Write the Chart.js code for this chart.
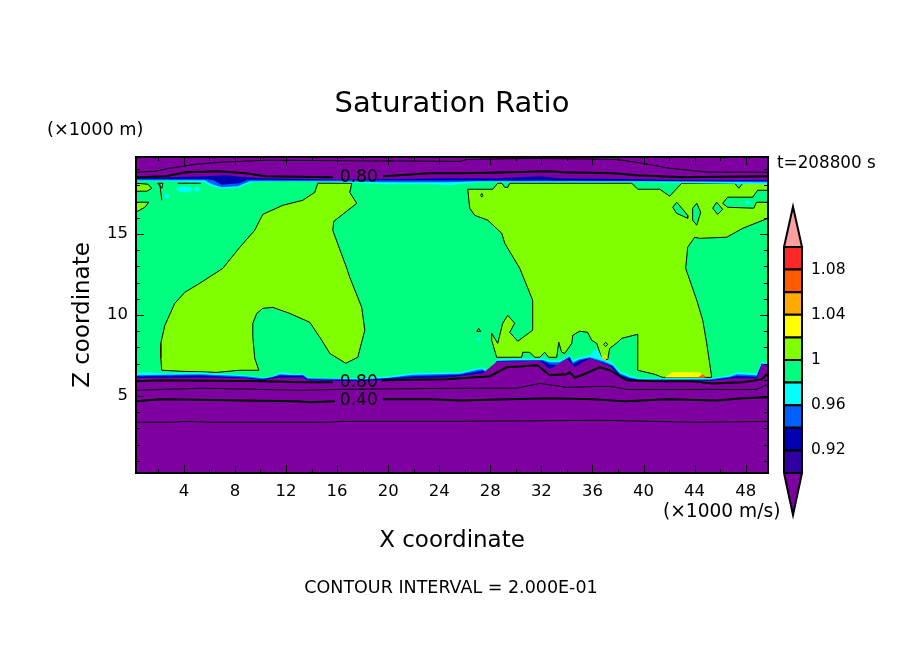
<!DOCTYPE html>
<html><head><meta charset="utf-8">
<style>html,body{margin:0;padding:0;background:#fff}
#wrap{position:relative;width:904px;height:654px}
canvas{position:absolute;left:0;top:0}</style>
<script src="https://cdn.jsdelivr.net/npm/chart.js@4"></script>
</head><body><div id="wrap"><canvas id="main" width="904" height="654"></canvas><canvas id="bar" width="904" height="654"></canvas></div>
<script>
const titleText = "Saturation Ratio";
const xAxisTitle = "X coordinate";
const zAxisTitle = "Z coordinate";
const footerText = "CONTOUR INTERVAL = 2.000E-01";
const timeText = "t=208800 s";
const zUnitText = "(\u00d71000 m)";
const xUnitText = "(\u00d71000 m/s)";
const xRange = [0.25, 49.75];
const zRange = [0.25, 19.75];
const xTickValues = [2,4,6,8,10,12,14,16,18,20,22,24,26,28,30,32,34,36,38,40,42,44,46,48];
const xLabelled = [4,8,12,16,20,24,28,32,36,40,44,48];
const zTickValues = [1,2,3,4,5,6,7,8,9,10,11,12,13,14,15,16,17,18,19];
const zLabelled = [5,10,15];
const colorLevels = [0.90,0.92,0.94,0.96,0.98,1.00,1.02,1.04,1.06,1.08,1.10];
const colorFills = ["#3000a0","#0000b0","#0060ff","#00ffff","#00ff80","#80ff00","#ffff00","#ffa800","#ff5a00","#ff2828"];
const colorTicks = [0.92,0.96,1,1.04,1.08];
const overFill = "#ffa0a0";
const underFill = "#7f00a0";
const upperTip = 1.1357;
const lowerTip = 0.8628;

const domainBox = [[0.25,0.25],[49.75,0.25],[49.75,19.75],[0.25,19.75]];
const limeLeft = [[14.49,18.13],[14.25,17.57],[13.31,17.08],[11.75,16.77],[10.18,16.21],[9.55,15.23],[8.38,14.18],[7.05,12.88],[5.25,11.96],[4.07,11.40],[3.29,10.72],[2.51,9.36],[2.19,8.25],[2.19,7.33],[2.27,6.59],[3.68,6.53],[6.58,6.46],[8.38,6.59],[9.87,6.59],[9.55,7.33],[9.40,8.62],[9.40,9.49],[9.71,10.10],[10.18,10.41],[10.96,10.47],[12.29,10.10],[13.86,9.55],[14.80,8.44],[15.43,7.63],[16.68,7.02],[17.62,7.39],[18.17,9.06],[17.93,10.47],[16.99,12.33],[16.76,12.88],[15.66,15.23],[15.74,15.78],[17.54,16.89],[16.99,17.57],[17.15,18.13]];
const limeRight = [[26.23,17.76],[28.19,17.76],[28.58,18.13],[28.90,18.13],[29.13,17.88],[29.37,17.88],[29.52,18.13],[39.08,18.13],[39.55,17.76],[41.27,17.76],[42.05,17.33],[42.99,18.13],[47.14,18.13],[47.46,17.82],[47.77,18.13],[49.75,18.13],[49.75,15.97],[47.77,15.35],[46.52,14.80],[44.40,14.73],[44.01,14.80],[43.46,14.18],[43.30,12.88],[44.17,10.91],[44.64,9.67],[44.95,8.25],[45.34,6.15],[41.50,6.15],[40.88,6.34],[39.55,6.59],[39.55,8.81],[38.29,8.56],[37.98,8.32],[37.35,7.94],[37.20,7.27],[36.88,7.20],[36.73,7.33],[36.57,7.70],[36.34,8.25],[35.94,8.44],[35.63,8.93],[35.00,9.00],[34.46,8.75],[34.38,8.25],[33.83,7.63],[33.59,7.70],[33.36,8.32],[33.20,7.39],[32.58,7.39],[32.26,7.70],[31.87,7.39],[31.48,7.39],[31.09,7.70],[30.54,7.70],[30.46,7.39],[28.50,7.39],[28.11,8.44],[28.11,8.87],[28.58,8.25],[28.97,9.49],[29.37,9.98],[29.91,9.49],[29.52,8.93],[30.15,8.38],[31.32,9.06],[31.32,10.91],[30.31,12.88],[29.13,14.43],[28.90,15.04],[27.80,15.85],[26.78,16.15],[26.39,16.59]];
const limeCornerA = [[0.25,18.13],[1.17,18.07],[1.49,17.82],[1.10,17.64],[0.25,17.64]];
const limeCornerB = [[0.25,16.96],[1.25,16.96],[0.94,16.65],[0.39,16.40],[0.25,16.46]];
const limeSliver = [[1.96,18.13],[2.35,18.13],[2.27,17.82]];
const holeA = [[42.29,16.65],[42.60,16.96],[43.46,16.15],[43.46,15.97],[42.60,16.27]];
const holeB = [[43.85,16.59],[44.17,16.89],[44.48,16.34],[44.17,15.54],[43.85,15.85]];
const holeC = [[45.42,16.59],[45.73,16.96],[46.20,16.52],[45.81,16.21]];
const holeD = [[46.20,16.89],[46.59,17.27],[48.55,17.27],[48.94,17.70],[49.75,17.70],[49.75,16.96],[48.86,16.96],[48.63,16.59],[46.59,16.65]];
const holeE = [[36.88,8.19],[37.04,8.31],[37.20,8.19],[37.04,8.06]];
const holeF = [[26.94,8.99],[27.09,9.18],[27.25,8.99]];
const holeG = [[27.25,17.38],[27.33,17.50],[27.41,17.38],[27.33,17.27]];
const cyanSpotA = [[2.43,17.33],[2.66,17.51],[2.90,17.33],[2.66,17.14]];
const cyanSpotB = [[3.37,17.76],[3.68,17.94],[4.46,17.92],[4.70,17.76],[4.46,17.57],[3.68,17.57]];
const cyanSpotC = [[4.78,17.76],[5.01,17.94],[5.32,17.76],[5.01,17.57]];
const cyanSpotD = [[47.96,16.96],[48.16,17.10],[48.36,16.96],[48.16,16.82]];
const cyanSpotE = [[26.85,8.50],[27.10,8.58],[27.30,8.50],[27.10,8.42]];
const yellowStrip = [[41.66,6.15],[42.21,6.46],[44.40,6.46],[44.79,6.15]];
const orangeStrip = [[44.24,6.15],[44.64,6.34],[44.95,6.15]];
const yellowSpot = [[36.73,7.33],[36.96,7.57],[37.20,7.33],[36.96,7.20]];
const orangeSpot = [[36.85,7.33],[36.96,7.45],[37.08,7.33],[36.96,7.26]];

const lowCyan = [[0.25,6.34],[0.55,6.46],[1.33,6.46],[2.51,6.40],[5.25,6.46],[7.60,6.34],[8.77,6.28],[10.18,6.15],[10.88,6.22],[11.51,6.46],[12.06,6.46],[12.69,6.34],[13.31,6.40],[13.70,6.15],[15.43,6.09],[17.78,6.09],[19.89,6.22],[21.93,6.40],[25.61,6.46],[27.02,6.71],[27.41,6.77],[27.88,6.53],[28.50,7.27],[30.07,7.33],[32.11,7.33],[32.65,7.20],[33.44,7.20],[34.22,7.57],[34.46,7.20],[35.00,7.39],[35.79,7.51],[36.34,7.94],[36.57,7.63],[36.88,7.20],[37.28,7.20],[37.59,7.02],[38.14,6.53],[38.92,6.28],[39.70,6.09],[45.18,6.09],[46.75,6.28],[47.30,6.46],[48.86,6.40],[49.26,7.14],[49.75,7.02],[49.75,0.25],[0.25,0.25]];
const lowBlue = [[0.25,6.28],[2.51,6.31],[5.25,6.34],[8.77,6.22],[10.18,6.09],[10.88,6.15],[11.51,6.34],[12.69,6.28],[13.31,6.31],[13.70,6.09],[17.78,6.03],[19.89,6.12],[21.93,6.31],[25.61,6.37],[27.02,6.62],[27.41,6.65],[27.88,6.40],[28.50,7.17],[30.07,7.23],[32.11,7.23],[32.65,7.08],[33.44,7.08],[34.22,7.45],[34.46,7.08],[35.00,7.27],[35.79,7.39],[36.88,7.14],[37.59,6.90],[38.14,6.40],[38.92,6.15],[39.70,6.03],[45.18,6.03],[46.75,6.19],[47.30,6.34],[48.86,6.28],[49.26,7.02],[49.75,6.90],[49.75,0.25],[0.25,0.25]];
const lowDark = [[0.25,6.22],[5.25,6.28],[8.77,6.15],[10.18,6.03],[11.51,6.28],[13.31,6.25],[13.70,6.03],[17.78,5.98],[21.93,6.22],[25.61,6.31],[27.41,6.58],[27.88,6.34],[28.50,7.14],[32.11,7.17],[32.65,6.96],[33.44,6.90],[34.22,7.39],[34.46,6.96],[35.00,7.20],[35.79,7.33],[36.88,7.05],[37.59,6.84],[38.14,6.31],[38.92,6.09],[39.70,5.98],[45.18,5.98],[46.75,6.15],[47.30,6.25],[48.86,6.19],[49.26,6.96],[49.75,6.84],[49.75,0.25],[0.25,0.25]];
const lowPurple = [[0.25,6.09],[5.25,6.15],[8.77,6.09],[10.18,5.97],[11.51,6.15],[13.31,6.15],[13.70,5.97],[17.78,5.91],[21.93,6.09],[24.82,6.15],[27.41,6.40],[28.50,7.11],[31.87,7.17],[32.65,6.65],[33.99,7.30],[34.61,6.77],[35.79,7.33],[37.35,6.86],[38.14,6.22],[39.08,5.97],[45.18,5.94],[46.99,6.09],[48.94,6.09],[49.26,6.99],[49.75,6.77],[49.75,0.25],[0.25,0.25]];

const topCyan = [[0.25,18.25],[2.90,18.25],[5.56,18.19],[6.19,17.94],[6.97,17.79],[8.22,17.85],[9.32,18.19],[12.29,18.25],[16.21,18.19],[19.73,18.07],[23.26,18.07],[24.82,18.01],[26.23,18.13],[27.17,18.19],[39.70,18.19],[44.40,18.13],[49.75,18.07],[49.75,19.75],[0.25,19.75]];
const topBlue = [[0.25,18.31],[5.64,18.31],[6.19,18.07],[6.97,17.88],[8.22,17.94],[9.16,18.25],[16.21,18.25],[19.73,18.19],[24.82,18.19],[27.17,18.25],[39.70,18.25],[49.75,18.19],[49.75,19.75],[0.25,19.75]];
const topDark = [[0.25,18.38],[5.79,18.38],[6.34,18.31],[6.97,18.04],[8.38,18.13],[9.01,18.34],[16.21,18.31],[49.75,18.25],[49.75,19.75],[0.25,19.75]];
const topPurple = [[0.25,18.44],[5.72,18.56],[7.28,18.62],[8.77,18.50],[10.10,18.44],[16.21,18.34],[19.58,18.38],[24.82,18.44],[28.74,18.44],[31.87,18.56],[33.44,18.44],[39.70,18.38],[44.40,18.31],[49.75,18.31],[49.75,19.75],[0.25,19.75]];

const lineLow080a = [[0.25,5.91],[2.11,5.97],[10.18,5.91],[13.31,5.85],[15.66,5.85]];
const lineLow080b = [[19.50,5.97],[24.59,6.03],[27.96,6.22],[29.29,6.77],[31.71,6.90],[32.65,6.28],[33.99,6.34],[34.22,6.46],[34.61,6.15],[35.16,6.28],[36.57,6.77],[37.35,6.59],[38.68,5.97],[41.03,5.91],[43.85,5.91],[45.42,5.78],[47.77,5.85],[49.26,6.03],[49.75,6.40]];
const line060 = [[0.25,5.35],[2.35,5.41],[5.48,5.48],[10.18,5.41],[13.31,5.35],[15.97,5.41],[25.61,5.48],[30.07,5.48],[31.87,5.78],[33.99,5.54],[37.35,5.60],[38.68,5.41],[48.86,5.41],[49.75,5.72]];
const line040a = [[0.25,4.67],[2.11,4.80],[12.84,4.67],[13.86,4.61],[15.82,4.67]];
const line040b = [[19.58,4.80],[23.26,4.80],[25.61,4.73],[32.65,4.86],[36.02,4.80],[38.68,4.67],[41.82,4.80],[45.73,4.73],[47.77,4.86],[49.75,4.92]];
const line020 = [[0.25,3.38],[3.13,3.38],[4.23,3.44],[6.03,3.38],[15.43,3.38],[16.21,3.44],[25.61,3.44],[36.57,3.50],[44.40,3.38],[49.75,3.44]];
const lineTop080a = [[0.25,18.50],[2.58,18.56],[4.15,18.81],[6.66,18.87],[8.85,18.75],[10.41,18.56],[15.66,18.50]];
const lineTop080b = [[19.58,18.56],[23.26,18.75],[26.16,18.75],[32.65,18.87],[33.67,18.81],[37.59,18.75],[39.47,18.62],[43.07,18.50],[49.75,18.56]];
const lineTopThin = [[0.25,18.81],[1.80,18.87],[2.82,19.05],[4.93,19.30],[6.73,19.42],[10.41,19.55],[25.61,19.48],[26.16,19.60],[31.32,19.66],[37.90,19.60],[39.94,19.36],[42.05,19.05],[45.18,18.81],[49.75,18.81]];
const lineSpurA = [[3.52,18.13],[5.32,18.13]];
const lineSpurB = [[2.11,18.13],[2.27,17.08]];
const contourLabels = [["0.80",17.70,18.50],["0.80",17.70,5.85],["0.40",17.70,4.74]];

const GREEN = colorFills[4], LIME = colorFills[5], CYAN = colorFills[3], BLUE = colorFills[2], NAVY = colorFills[1], YELLOW = colorFills[6], ORANGE = colorFills[7], DEEP = colorFills[8];
const pts = a => a.map(p => ({x:p[0], y:p[1]}));
const region = (a, fillColor, outline) => ({data:pts(a.concat([a[0]])), showLine:true, fill:'shape', backgroundColor:fillColor,
  borderColor: outline ? '#000' : fillColor, borderWidth: outline ? 1 : 0, pointRadius:0, tension:0});
const contour = (a, w) => ({data:pts(a), showLine:true, fill:false, borderColor:'#000', borderWidth:w, pointRadius:0, tension:0});
const font = "DejaVu Sans";

const painted = [
  region(domainBox, GREEN),
  region(limeLeft, LIME, true), region(limeRight, LIME, true),
  region(limeCornerA, LIME, true), region(limeCornerB, LIME, true), region(limeSliver, LIME, true),
  region(holeA, GREEN, true), region(holeB, GREEN, true), region(holeC, GREEN, true), region(holeD, GREEN, true),
  region(holeE, LIME, true), region(holeF, GREEN, true), region(holeG, LIME, true),
  region(cyanSpotA, CYAN), region(cyanSpotB, CYAN), region(cyanSpotC, CYAN), region(cyanSpotD, CYAN), region(cyanSpotE, CYAN),
  region(yellowStrip, YELLOW), region(orangeStrip, DEEP), region(yellowSpot, YELLOW), region(orangeSpot, ORANGE),
  region(lowCyan, CYAN), region(lowBlue, BLUE), region(lowDark, NAVY), region(lowPurple, underFill),
  region(topCyan, CYAN), region(topBlue, BLUE), region(topDark, NAVY), region(topPurple, underFill),
  contour(lineLow080a,2), contour(lineLow080b,2), contour(line060,1), contour(line040a,2), contour(line040b,2), contour(line020,1),
  contour(lineTop080a,2), contour(lineTop080b,2), contour(lineTopThin,1), contour(lineSpurA,1), contour(lineSpurB,1)
];

const frame = {
  id:'frame',
  afterDatasetsDraw(chart){
    const {ctx, chartArea:a, scales:{x, y}} = chart;
    ctx.save();
    ctx.strokeStyle='#000';
    ctx.lineWidth=1;
    ctx.beginPath();
    xTickValues.forEach(v=>{
      const p=Math.round(x.getPixelForValue(v))+0.5, l=xLabelled.includes(v)?8:4;
      ctx.moveTo(p,a.bottom);ctx.lineTo(p,a.bottom-l);ctx.moveTo(p,a.top);ctx.lineTo(p,a.top+l);
    });
    zTickValues.forEach(v=>{
      const p=Math.round(y.getPixelForValue(v))+0.5, l=zLabelled.includes(v)?8:4;
      ctx.moveTo(a.left,p);ctx.lineTo(a.left+l,p);ctx.moveTo(a.right,p);ctx.lineTo(a.right-l,p);
    });
    ctx.stroke();
    ctx.lineWidth=2;
    ctx.strokeRect(a.left,a.top,a.right-a.left,a.bottom-a.top);
    ctx.fillStyle='#000';
    ctx.textBaseline='middle';ctx.textAlign='center';
    ctx.font="17px '"+font+"'";
    contourLabels.forEach(l=>ctx.fillText(l[0],x.getPixelForValue(l[1]),y.getPixelForValue(l[2])));
    ctx.textAlign='left';
    ctx.font="17.7px '"+font+"'";
    ctx.fillText(zUnitText,47,130);
    ctx.font="16.8px '"+font+"'";
    ctx.fillText(timeText,777,164);
    ctx.font="18.6px '"+font+"'";
    ctx.fillText(xUnitText,663,512);
    ctx.font="17.5px '"+font+"'";
    ctx.textAlign='center';
    ctx.fillText(footerText,451,588);
    ctx.restore();
  }
};

new Chart(document.getElementById('main'),{
  type:'scatter',
  data:{datasets:painted.slice().reverse()},
  options:{
    responsive:false, animation:false, events:[],
    layout:{autoPadding:false,padding:0},
    plugins:{legend:{display:false},tooltip:{enabled:false},
      title:{display:true,text:titleText,color:'#000',font:{family:font,size:29,weight:'normal',lineHeight:1.2},padding:{top:87,bottom:35.2}}},
    scales:{
      x:{type:'linear',position:'bottom',min:xRange[0],max:xRange[1],
        afterBuildTicks:s=>{s.ticks=xTickValues.map(v=>({value:v}));},
        afterFit:s=>{s.height=181;},
        grid:{display:false,drawTicks:false},border:{display:false},
        ticks:{autoSkip:false,maxRotation:0,color:'#000',padding:9,font:{family:font,size:16.5},callback:v=>xLabelled.includes(v)?String(v):''},
        title:{display:true,text:xAxisTitle,color:'#000',font:{family:font,size:23,lineHeight:1.2},padding:{top:0,bottom:99.5}}},
      y:{type:'linear',position:'left',min:zRange[0],max:zRange[1],
        afterBuildTicks:s=>{s.ticks=zTickValues.map(v=>({value:v}));},
        afterFit:s=>{s.width=136;},
        grid:{display:false,drawTicks:false},border:{display:false},
        ticks:{autoSkip:false,color:'#000',padding:8,font:{family:font,size:16.5},callback:v=>zLabelled.includes(v)?String(v):''},
        title:{display:true,text:zAxisTitle,color:'#000',font:{family:font,size:23,lineHeight:1.2},padding:{top:69,bottom:0}}},
      rightGutter:{type:'linear',position:'right',min:0,max:1,
        afterFit:s=>{s.width=136;},
        grid:{display:false,drawTicks:false},border:{display:false},ticks:{display:false}}
    }
  },
  plugins:[frame]
});

const cells = colorFills.map((c,i)=>{
  const lo=colorLevels[i], hi=colorLevels[i+1];
  return {data:[{x:0,y:lo},{x:1,y:lo},{x:1,y:hi},{x:0,y:hi},{x:0,y:lo}],showLine:true,fill:'shape',backgroundColor:c,borderColor:'#000',borderWidth:2,pointRadius:0,tension:0,clip:false};
});
const arrow = (base,tip,c)=>({data:[{x:0,y:base},{x:1,y:base},{x:0.5,y:tip},{x:0,y:base}],showLine:true,fill:'shape',backgroundColor:c,borderColor:'#000',borderWidth:2,pointRadius:0,tension:0,clip:false});
new Chart(document.getElementById('bar'),{
  type:'scatter',
  data:{datasets:cells.concat([arrow(1.10,upperTip,overFill),arrow(0.90,lowerTip,underFill)])},
  options:{
    responsive:false, animation:false, events:[],
    layout:{autoPadding:false,padding:{left:784,top:200,bottom:134,right:0}},
    plugins:{legend:{display:false},tooltip:{enabled:false}},
    scales:{
      x:{type:'linear',min:0,max:1,display:false},
      y:{type:'linear',position:'right',min:0.8584,max:1.1416,
        afterBuildTicks:s=>{s.ticks=colorTicks.map(v=>({value:v}));},
        afterFit:s=>{s.width=102;},
        grid:{display:false,drawTicks:false},border:{display:false},
        ticks:{autoSkip:false,color:'#000',padding:9,font:{family:font,size:15.5},callback:v=>String(v)}}
    }
  }
});
</script></body></html>
